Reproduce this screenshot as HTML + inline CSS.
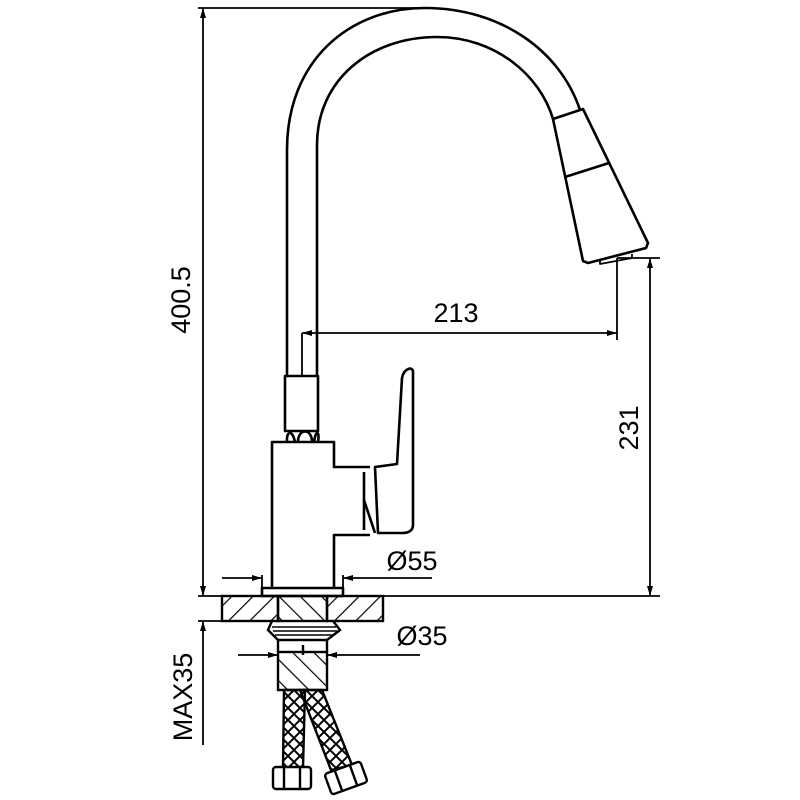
<!DOCTYPE html>
<html><head><style>
html,body{margin:0;padding:0;background:#fff;width:800px;height:800px;overflow:hidden}
svg{display:block}
text{font-family:"Liberation Sans",sans-serif;fill:#000}
</style></head><body>
<svg width="800" height="800" viewBox="0 0 800 800" xmlns="http://www.w3.org/2000/svg">
<defs>
<pattern id="h1" patternUnits="userSpaceOnUse" width="15" height="15" patternTransform="rotate(45)">
<line x1="0" y1="0" x2="0" y2="15" stroke="#000" stroke-width="2.4"/></pattern>
<pattern id="h2" patternUnits="userSpaceOnUse" width="15" height="15" patternTransform="rotate(-45)">
<line x1="0" y1="0" x2="0" y2="15" stroke="#000" stroke-width="2.4"/></pattern>
<pattern id="x" patternUnits="userSpaceOnUse" width="12" height="12">
<path d="M0,0L12,12M12,0L0,12" stroke="#000" stroke-width="2"/></pattern>
<marker id="a" viewBox="0 0 10 6" refX="10" refY="3" markerWidth="12" markerHeight="6" orient="auto-start-reverse" markerUnits="userSpaceOnUse">
<path d="M0,0L10,3L0,6z" fill="#000"/></marker>
</defs>
<g fill="none" stroke="#000" stroke-width="2.6" stroke-linejoin="round">
<path d="M287,376 L287,150 C287,60 350,8 425,8 C500,8 560,50 580,110"/>
<path d="M317,376 L317,145 C317,80 370,37 437,37 C495,37 540,75 553,119"/>
<path d="M553,119 L583,109 L648,243 L646,248 L588,263 L583,261 Z"/>
<line x1="565" y1="177" x2="609" y2="163"/>
<path d="M600,260 L600,264 L632,258 L632,254" stroke-width="1.8"/>
<rect x="285" y="376" width="33" height="55"/>
<path d="M287,442 C286,432 292,428 295,442 M298,442 C298,428 312,428 312,442 M314,442 C316,428 320,432 318,442"/>
<path d="M272,588 L272,442 L334,442 L334,467 L370,467"/>
<path d="M334,588 L334,535 L370,535"/>
<path d="M375,467 L397,464 L402,378 C404,368 413,366 413,372 L413,525 C413,531 408,533 402,533 L378,533 Z"/>
<path d="M364,472 L364,530 M364,500 L375,533"/>
<rect x="262" y="588" width="81" height="8"/>
</g>
<rect x="222" y="596" width="56" height="25" fill="url(#h1)" stroke="#000" stroke-width="2.4"/>
<rect x="278" y="596" width="49" height="25" fill="url(#h2)" stroke="#000" stroke-width="2.4"/>
<rect x="327" y="596" width="56" height="25" fill="url(#h1)" stroke="#000" stroke-width="2.4"/>
<g fill="none" stroke="#000" stroke-width="2.4">
<path d="M272,621 L268,630 L278,640 L278,652 M333,621 L340,630 L327,640 L327,652"/>
<path d="M272,627 H336 M273,631 H337 M275,635 H334" stroke-width="1.4"/>
<line x1="278" y1="640" x2="327" y2="640"/>
<line x1="303" y1="645" x2="303" y2="655"/>
</g>
<rect x="278" y="652" width="49" height="38" fill="url(#h2)" stroke="#000" stroke-width="2.4"/>
<path d="M284,690 L305,690 L303,768 L283,768 Z" fill="url(#x)" stroke="#000" stroke-width="2.4"/>
<path d="M300,690 L322,690 L352,765 L331,770 Z" fill="url(#x)" stroke="#000" stroke-width="2.4"/>
<g fill="#fff" stroke="#000" stroke-width="2.4">
<rect x="273" y="767" width="38" height="22" rx="3"/>
<path d="M284,767V789M300,767V789" fill="none"/>
<g transform="rotate(-20 346 778)"><rect x="327" y="767" width="38" height="22" rx="3"/><path d="M338,767V789M354,767V789" fill="none"/></g>
</g>
<g stroke="#000" stroke-width="1.8" fill="none">
<line x1="198" y1="8" x2="425" y2="8"/>
<line x1="203" y1="8" x2="203" y2="596" marker-start="url(#a)" marker-end="url(#a)"/>
<line x1="198" y1="596" x2="660" y2="596"/>
<line x1="198" y1="621" x2="222" y2="621"/>
<line x1="203" y1="745" x2="203" y2="621" marker-end="url(#a)"/>
<line x1="302" y1="333" x2="302" y2="376"/>
<line x1="302" y1="333" x2="617" y2="333" marker-start="url(#a)" marker-end="url(#a)"/>
<line x1="617" y1="258" x2="617" y2="340"/>
<line x1="617" y1="258" x2="660" y2="258"/>
<line x1="650" y1="258" x2="650" y2="596" marker-start="url(#a)" marker-end="url(#a)"/>
<line x1="222" y1="578" x2="262" y2="578" marker-end="url(#a)"/>
<line x1="432" y1="578" x2="343" y2="578" marker-end="url(#a)"/>
<line x1="262" y1="575" x2="262" y2="588"/><line x1="343" y1="575" x2="343" y2="588"/>
<line x1="238" y1="655" x2="278" y2="655" marker-end="url(#a)"/>
<line x1="420" y1="655" x2="327" y2="655" marker-end="url(#a)"/>
</g>
<text x="456" y="322" font-size="27" text-anchor="middle">213</text>
<text x="412" y="570" font-size="27" text-anchor="middle">Ø55</text>
<text x="422" y="645" font-size="27" text-anchor="middle">Ø35</text>
<text transform="translate(190,300) rotate(-90)" font-size="27" text-anchor="middle">400.5</text>
<text transform="translate(638,428) rotate(-90)" font-size="27" text-anchor="middle">231</text>
<text transform="translate(192,697) rotate(-90)" font-size="27" text-anchor="middle">MAX35</text>
</svg>
</body></html>
